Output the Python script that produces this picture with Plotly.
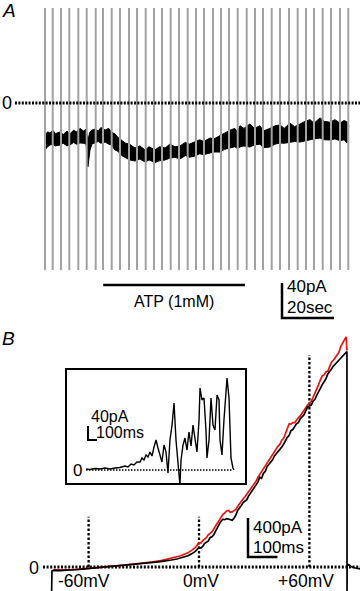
import plotly.graph_objects as go

W, H = 360, 591
FONT = "Liberation Sans, Arial, sans-serif"


def xp(px):
    return px / W


def yp(py):
    return 1 - py / H


# ---------------- Panel A data ----------------
# times (s) of the voltage ramps (vertical grey deflections)
ramp_times_s = [0, 2.96, 6.15, 9.35, 12.81, 16.04, 19.5, 22.31, 25.65, 28.85,
                32.31, 35.38, 38.73, 41.92, 45.0, 48.35, 51.54, 54.88, 58.08,
                61.15, 64.62, 67.69, 70.77, 74.12, 77.58, 80.77, 83.85, 87.19,
                90.38, 93.85, 97.19, 100.38, 103.46, 106.81, 110.0, 113.46, 116.65]
ramp_low_pA, ramp_high_pA = -250, 2400

# holding current envelope (noise band), pA
hold_t_s = [0, 1.0, 1.9, 3, 4, 5.8, 7, 8.5, 9.6, 11, 12, 13.5, 14.8, 15.8, 16.5,
            17.3, 18, 19.2, 20.5, 21.5, 23.1, 24.5, 25.5, 26.9, 28, 29.5, 30.8,
            32.5, 34.6, 36.5, 38.5, 40, 42.3, 44, 46.2, 48, 50, 51.9, 54, 55.5,
            57.7, 59.5, 61, 63.5, 65, 67.3, 69, 71.2, 73, 74, 75, 76.5, 78.8,
            80.5, 82.7, 84, 86.5, 88.5, 90.4, 92, 94.2, 96, 98.1, 100, 101.9,
            103.5, 105.8, 107.5, 109.6, 111.5, 113.5, 115, 116.2]
hold_upper_pA = [-36.6, -33, -34.3, -31, -35, -33, -36, -32, -35.4, -31, -33, -29,
                 -32, -30, -42, -33, -31, -30, -32, -28, -30.9, -29, -33, -35.4,
                 -39, -43, -45.7, -47, -51.4, -49, -53.7, -50, -53.7, -50, -51.4,
                 -47, -50, -49.1, -45, -47, -44, -42, -44, -40, -41, -37, -35, -31,
                 -29, -33, -26, -29, -24, -29, -26, -32, -29, -26, -25, -29, -23,
                 -27, -24, -21, -19, -23, -17, -21, -22, -19, -23, -20, -21.7]
hold_lower_pA = [-53.7, -50, -48, -47, -49, -48, -46, -49, -48, -45, -47, -45.7,
                 -46, -47, -73, -54, -47, -45.7, -44, -46, -44.6, -47, -48, -53.7,
                 -55, -60, -61.7, -65, -66.3, -64, -67.4, -65, -68, -66, -65.1,
                 -63, -62, -64, -60, -62, -60.6, -58, -59, -57.1, -56, -56, -53,
                 -51.4, -50, -52, -50.3, -49, -50.3, -48, -47, -51, -50.3, -47,
                 -45.7, -46, -45, -44, -44.6, -43, -42.3, -41, -40, -42, -42.3,
                 -41, -43, -42, -45.7]
atp_on_s, atp_off_s = 22.4, 76.9
scaleA_pA, scaleA_s = 40, 20

# ---------------- Panel B data ----------------
black_mV = [-80.1, -79.9, -78, -75, -72, -70, -67, -65, -62, -60, -57, -55, -52,
            -50, -47, -45, -42, -40, -37, -35, -32, -30, -27, -25, -22, -20, -17,
            -15, -12, -10, -8, -6, -4, -2, 0, 1, 2, 3, 4, 5, 6, 7, 8, 9, 10, 11,
            12, 13, 14, 15, 16, 17, 18, 19, 20, 21, 22, 23, 24, 25, 26, 27, 28,
            29, 30, 31, 32, 33, 34, 35, 36, 37, 38, 39, 40, 41, 42, 43, 44, 45,
            46, 47, 48, 49, 50, 51, 52, 53, 54, 55, 56, 57, 58, 59, 60, 61, 62,
            63, 64, 65, 66, 67, 68, 69, 70, 71, 72, 73, 74, 75, 76, 77, 78, 79,
            80, 80.4, 80.45, 80.5, 81.3, 82.5, 85, 88]
black_pA = [-260, -40, -35, -38, -32, -33, -28, -25, -20, -15, -12, -8, -4, 0, 5,
            8, 12, 15, 20, 25, 28, 35, 40, 45, 52, 58, 64, 72, 82, 92, 100, 115,
            135, 160, 200, 195, 210, 240, 255, 265, 300, 310, 330, 370, 400, 440,
            470, 490, 485, 495, 492, 488, 480, 500, 530, 580, 600, 630, 660, 675,
            690, 730, 760, 780, 820, 850, 870, 920, 910, 960, 980, 1030, 1050,
            1080, 1100, 1140, 1160, 1180, 1200, 1230, 1260, 1300, 1330, 1350,
            1400, 1410, 1440, 1470, 1480, 1520, 1540, 1560, 1600, 1640, 1650,
            1660, 1700, 1720, 1760, 1800, 1840, 1870, 1900, 1930, 1980, 2000,
            2030, 2060, 2080, 2100, 2120, 2140, 2160, 2190, 2200, 2210, -260,
            10, 25, 5, -10, -20]
red_mV = [-79.5, -75, -70, -65, -60, -55, -50, -45, -40, -35, -30, -25, -20, -15,
          -12, -10, -8, -6, -4, -2, 0, 1, 2, 3, 4, 5, 6, 7, 8, 9, 10, 11, 12, 13,
          14, 15, 16, 17, 18, 19, 20, 21, 22, 23, 24, 25, 26, 27, 28, 29, 30,
          31, 32, 33, 34, 35, 36, 37, 38, 39, 40, 41, 42, 43, 44, 45, 46, 47,
          48, 49, 50, 51, 52, 53, 54, 55, 56, 57, 58, 59, 60, 61, 62, 63, 64,
          65, 66, 67, 68, 69, 70, 71, 72, 73, 74, 75, 76, 77, 78, 79, 80, 80.4]
red_pA = [-30, -32, -28, -22, -12, -5, 3, 12, 20, 30, 40, 52, 68, 88, 100, 115,
          130, 145, 170, 200, 250, 245, 270, 285, 300, 330, 345, 360, 390, 420,
          450, 480, 510, 540, 555, 575, 580, 560, 565, 575, 590, 620, 650, 670,
          700, 720, 745, 770, 800, 830, 855, 880, 920, 950, 980, 1000, 1040,
          1060, 1100, 1120, 1150, 1180, 1210, 1240, 1260, 1300, 1320, 1370,
          1420, 1470, 1465, 1480, 1480, 1510, 1530, 1550, 1580, 1600, 1630,
          1660, 1680, 1700, 1740, 1780, 1830, 1870, 1920, 1960, 1970, 2000,
          2010, 2060, 2100, 2120, 2150, 2180, 2200, 2260, 2300, 2330, 2360, 2220]
guide_mV = [-60, 0, 60]
guide_labels = ["-60mV", "0mV", "+60mV"]
guide_top_pA = [516, 516, 2175]
ramp_rate_mV_per_ms = 0.16
scaleB_pA, scaleB_ms = 400, 100

# inset (single ramp, expanded)
inset_t_ms = [0, 44, 100, 156, 211, 267, 322, 378, 433, 467, 500, 533, 567, 600,
              622, 644, 667, 689, 711, 733, 756, 778, 800, 822, 844, 867, 889,
              911, 933, 956, 978, 1000, 1022, 1044, 1056, 1078, 1100, 1122,
              1144, 1167, 1189, 1211, 1233, 1256, 1267, 1289, 1311, 1333, 1344,
              1367, 1389, 1411, 1433, 1456, 1478, 1489, 1511, 1533, 1556, 1567,
              1589, 1600, 1611, 1633, 1644]
inset_pA = [2.9, 1.4, 4.3, 2.9, 5.7, 2.9, 5.7, 7.1, 11.4, 8.6, 17.1, 14.3, 22.9,
            22.9, 34.3, 28.6, 42.9, 37.1, 51.4, 40, 65.7, 85.7, 62.9, 42.9, 22.9,
            71.4, 51.4, -8.6, 85.7, 128.6, 191.4, 85.7, 14.3, -42.9, 28.6, 71.4,
            91.4, 57.1, 108.6, 68.6, 128.6, 85.7, 51.4, 142.9, 234.3, 200, 205.7,
            114.3, 34.3, 85.7, 205.7, 128.6, 114.3, 214.3, 200, 85.7, 42.9,
            142.9, 214.3, 262.9, 205.7, 114.3, 34.3, 5.7, 0]
scaleI_pA, scaleI_ms = 40, 100

# ---------------- scales (pixel geometry) ----------------
A_x0, A_pxps = 45, 2.6         # px of t=0, px per second
A_zero, A_pxppA = 103, 0.875   # py of 0 pA, px per pA
B_x0, B_pxpmV = 199, 1.84      # px of 0 mV, px per mV
B_zero, B_pxppA = 567, 0.0975  # py of 0 pA, px per pA
I_x0, I_pxpms = 86, 0.09
I_zero, I_pxppA = 470, 0.35

fig = go.Figure()

# ---- Panel A ----
band_x = hold_t_s + hold_t_s[::-1]
band_y = hold_upper_pA + hold_lower_pA[::-1]
fig.add_trace(go.Scatter(x=band_x, y=band_y, fill="toself", fillcolor="black",
                         line=dict(color="black", width=1), mode="lines",
                         xaxis="x", yaxis="y", hoverinfo="skip"))
rx, ry = [], []
for t in ramp_times_s:
    rx += [t, t, None]
    ry += [ramp_low_pA, ramp_high_pA, None]
fig.add_trace(go.Scatter(x=rx, y=ry, mode="lines",
                         line=dict(color="#a2a2a2", width=2),
                         xaxis="x", yaxis="y", hoverinfo="skip"))
fig.add_trace(go.Scatter(x=[(15 - A_x0) / A_pxps, (360 - A_x0) / A_pxps], y=[0, 0],
                         mode="lines", line=dict(color="black", width=3, dash="2px,1.4px"),
                         xaxis="x", yaxis="y", hoverinfo="skip"))

# ATP bar and scale bar (axis x2/y2, same scale as panel A)
fig.add_trace(go.Scatter(x=[atp_on_s, atp_off_s], y=[-17.1, -17.1], mode="lines",
                         line=dict(color="black", width=2.5),
                         xaxis="x2", yaxis="y2", hoverinfo="skip"))
sbx = (282 - A_x0) / A_pxps
sby = -(283 - 270) / A_pxppA
fig.add_trace(go.Scatter(x=[sbx, sbx, sbx + scaleA_s], y=[sby, sby - scaleA_pA, sby - scaleA_pA],
                         mode="lines", line=dict(color="black", width=2.5),
                         xaxis="x2", yaxis="y2", hoverinfo="skip"))

# ---- Panel B ----
fig.add_trace(go.Scatter(x=[(43 - B_x0) / B_pxpmV, (360 - B_x0) / B_pxpmV], y=[0, 0],
                         mode="lines", line=dict(color="black", width=3, dash="2px,1.6px"),
                         xaxis="x3", yaxis="y3", hoverinfo="skip"))
for v, top in zip(guide_mV, guide_top_pA):
    fig.add_trace(go.Scatter(x=[v, v], y=[0, top], mode="lines",
                             line=dict(color="black", width=2.3, dash="2.5px,2px"),
                             xaxis="x3", yaxis="y3", hoverinfo="skip"))
fig.add_trace(go.Scatter(x=red_mV, y=red_pA, mode="lines",
                         line=dict(color="#e8140f", width=1.7),
                         xaxis="x3", yaxis="y3", hoverinfo="skip"))
fig.add_trace(go.Scatter(x=black_mV, y=black_pA, mode="lines",
                         line=dict(color="black", width=1.7),
                         xaxis="x3", yaxis="y3", hoverinfo="skip"))
sbv = (248 - B_x0) / B_pxpmV
sbi = (B_zero - 557) / B_pxppA
fig.add_trace(go.Scatter(x=[sbv, sbv, sbv + scaleB_ms * ramp_rate_mV_per_ms],
                         y=[sbi + scaleB_pA, sbi, sbi], mode="lines",
                         line=dict(color="black", width=2.5),
                         xaxis="x3", yaxis="y3", hoverinfo="skip"))

# ---- Inset ----
fig.add_trace(go.Scatter(x=[0, (233 - I_x0) / I_pxpms], y=[0, 0], mode="lines",
                         line=dict(color="black", width=1.3, dash="1.5px,1.5px"),
                         xaxis="x4", yaxis="y4", hoverinfo="skip"))
fig.add_trace(go.Scatter(x=inset_t_ms, y=inset_pA, mode="lines",
                         line=dict(color="black", width=1.4),
                         xaxis="x4", yaxis="y4", hoverinfo="skip"))
six = (88 - I_x0) / I_pxpms
siy = (I_zero - 440) / I_pxppA
fig.add_trace(go.Scatter(x=[six, six, six + scaleI_ms], y=[siy + scaleI_pA, siy, siy],
                         mode="lines", line=dict(color="black", width=2),
                         xaxis="x4", yaxis="y4", hoverinfo="skip"))

hidden = dict(visible=False, showgrid=False, zeroline=False, fixedrange=True)

fig.update_layout(
    width=W, height=H, margin=dict(l=0, r=0, t=0, b=0),
    paper_bgcolor="white", plot_bgcolor="rgba(0,0,0,0)",
    showlegend=False,
    xaxis=dict(domain=[0, 1], range=[-A_x0 / A_pxps, (W - A_x0) / A_pxps], **hidden),
    yaxis=dict(domain=[yp(270), yp(8)],
               range=[(A_zero - 270) / A_pxppA, (A_zero - 8) / A_pxppA], **hidden),
    xaxis2=dict(domain=[0, 1], range=[-A_x0 / A_pxps, (W - A_x0) / A_pxps], anchor="y2", **hidden),
    yaxis2=dict(domain=[yp(335), yp(270)], range=[-(335 - 270) / A_pxppA, 0], anchor="x2", **hidden),
    xaxis3=dict(domain=[0, 1], range=[-B_x0 / B_pxpmV, (W - B_x0) / B_pxpmV], anchor="y3", **hidden),
    yaxis3=dict(domain=[0, yp(330)],
                range=[(B_zero - H) / B_pxppA, (B_zero - 330) / B_pxppA], anchor="x3", **hidden),
    xaxis4=dict(domain=[xp(67), xp(245)],
                range=[-(I_x0 - 67) / I_pxpms, (245 - I_x0) / I_pxpms], anchor="y4",
                showline=True, mirror=True, linecolor="black", linewidth=2,
                showgrid=False, zeroline=False, showticklabels=False, ticks="", fixedrange=True),
    yaxis4=dict(domain=[yp(483), yp(370)],
                range=[-(483 - I_zero) / I_pxppA, (I_zero - 370) / I_pxppA], anchor="x4",
                showline=True, mirror=True, linecolor="black", linewidth=2,
                showgrid=False, zeroline=False, showticklabels=False, ticks="", fixedrange=True),
)


def label(text, px, py, size, xanchor="center", italic=False):
    fig.add_annotation(x=xp(px), y=yp(py), xref="paper", yref="paper",
                       text=f"<i>{text}</i>" if italic else text, showarrow=False,
                       xanchor=xanchor, yanchor="middle",
                       font=dict(family=FONT, size=size, color="black"))


label("A", 9, 10, 19, italic=True)
label("B", 8, 338, 19, italic=True)
label("0", 7, 103, 18)
label("ATP (1mM)", 174, 301, 16)
label("40pA", 285, 287, 17, xanchor="left")
label("20sec", 285, 307, 17, xanchor="left")
label("0", 34, 568, 18)
for v, txt, cx in zip(guide_mV, guide_labels, [84, 201, 306]):
    label(txt, cx, 581, 17.5)
label("400pA", 251, 527, 17, xanchor="left")
label("100ms", 251, 547, 17, xanchor="left")
label("0", 77, 470, 17)
label("40pA", 89, 416, 16, xanchor="left")
label("100ms", 94, 432, 16, xanchor="left")

fig.write_html(
    "out.html",
    config={"displayModeBar": False, "staticPlot": True},
    post_script="document.body.style.margin='0';document.body.style.overflow='hidden';",
)
